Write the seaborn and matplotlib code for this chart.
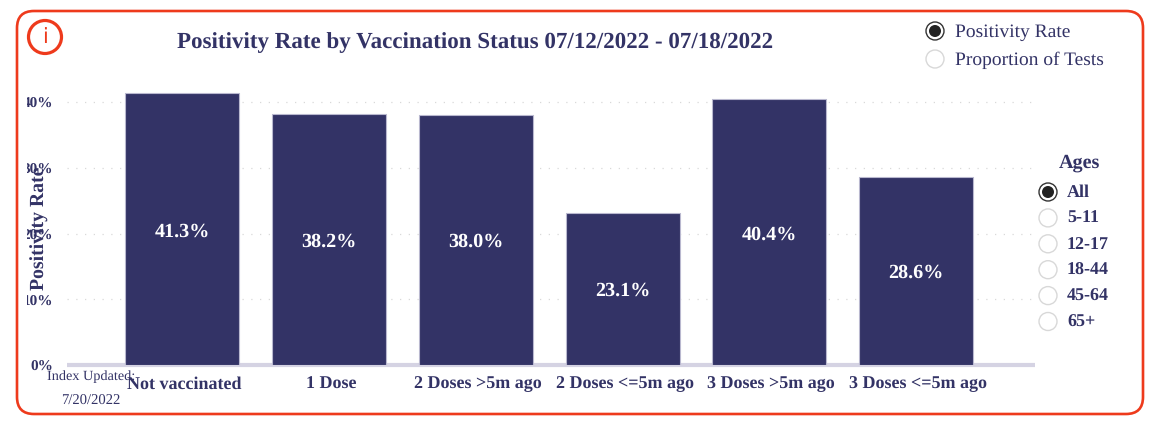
import matplotlib
matplotlib.use("Agg")
import matplotlib.pyplot as plt
import pandas as pd
import seaborn as sns
from matplotlib.patches import Circle, FancyBboxPatch
from matplotlib.transforms import Bbox, ScaledTranslation

# Data
status = ["Not vaccinated", "1 Dose", "2 Doses >5m ago", "2 Doses <=5m ago", "3 Doses >5m ago", "3 Doses <=5m ago"]
positivity = [41.3, 38.2, 38.0, 23.1, 40.4, 28.6]
y_ticks = [0, 10, 20, 30, 40]
ages = ["All", "5-11", "12-17", "18-44", "45-64", "65+"]
metrics = ["Positivity Rate", "Proportion of Tests"]

navy = "#333366"
red = "#EE3A1C"
W, H = 1154, 428

sns.set_theme(style="white")
plt.rcParams["font.family"] = ["Liberation Serif", "DejaVu Serif"]
plt.rcParams["text.hinting"] = "no_hinting"

df = pd.DataFrame({"status": status, "positivity": positivity})

fig = plt.figure(figsize=(W / 100, H / 100), dpi=100)
ax = fig.add_axes([67 / W, 1 - 365 / H, (1035 - 67) / W, (365 - 90) / H])

sns.barplot(data=df, x="status", y="positivity", color=navy, saturation=1, width=0.777,
            edgecolor="#b9b8cf", linewidth=0.8, ax=ax, zorder=3)
ax.set_xlim(-0.785, 5.81)
ax.set_ylim(0, 41.83)

# dotted grid
ax.set_yticks(y_ticks)
ax.yaxis.grid(True, linestyle=(0, (1, 6)), color="#d9d9d9", linewidth=0.9, zorder=0)
ax.set_axisbelow(True)
for s in ["top", "right", "left"]:
    ax.spines[s].set_visible(False)
ax.spines["bottom"].set_color("#d5d3e3")
ax.spines["bottom"].set_linewidth(3)
ax.spines["bottom"].set_capstyle("butt")
ax.spines["bottom"].set_zorder(2)
ax.tick_params(axis="both", length=0)

# tick labels, the left digit gets cut off in the original
ax.set_yticks(y_ticks, [f"{v}%" for v in y_ticks], fontsize=11, fontweight="bold", color=navy)
ax.tick_params(axis="y", pad=10)
clip = Bbox([[27, 0], [120, H]])
for lab in ax.get_yticklabels():
    lab.set_clip_box(clip)
    lab.set_clip_on(True)
    lab.set_transform(lab.get_transform() + ScaledTranslation(0, -1 / 100, fig.dpi_scale_trans))
ax.set_xticks(range(len(status)), status, fontsize=13, fontweight="bold", color=navy)
ax.tick_params(axis="x", pad=8)
for lab in ax.get_xticklabels():
    lab.set_transform(lab.get_transform() + ScaledTranslation(2 / 100, 0, fig.dpi_scale_trans))
ax.set_xlabel("")
ax.set_ylabel("")

for i, v in enumerate(positivity):
    ax.text(i, v / 2 - 0.35, f"{v}%", ha="center", va="center", color="white", fontsize=14.5, fontweight="bold", zorder=4)

# overlay in pixel coords for the frame, title and the radio buttons
ov = fig.add_axes([0, 0, 1, 1], facecolor="none")
ov.set_xlim(0, W)
ov.set_ylim(H, 0)
ov.axis("off")

ov.add_patch(FancyBboxPatch((17 + 15, 11 + 15), 1126 - 30, 403 - 30, boxstyle="round,pad=15,rounding_size=17",
                            fill=False, edgecolor=red, linewidth=1.9))

# info icon
ov.add_patch(Circle((45, 37), 16.5, fill=False, edgecolor=red, linewidth=2.3))
ov.text(45, 37.5, "i", color=red, fontsize=15, ha="center", va="center", family="DejaVu Sans")

ov.text(475, 43, "Positivity Rate by Vaccination Status 07/12/2022 - 07/18/2022", ha="center", va="center",
        color=navy, fontsize=16.6, fontweight="bold")
ov.text(40, 228, "Positivity Rate", rotation=90, ha="center", va="center", color=navy, fontsize=14.2, fontweight="bold")
ov.text(91, 377, "Index Updated:", ha="center", va="center", color=navy, fontsize=10.3)
ov.text(91, 401, "7/20/2022", ha="center", va="center", color=navy, fontsize=10.5)


def radio(x, y, on):
    if on:
        ov.add_patch(Circle((x, y), 9, facecolor="white", edgecolor="#333333", linewidth=1))
        ov.add_patch(Circle((x, y), 6, facecolor="#222222", edgecolor="none"))
    else:
        ov.add_patch(Circle((x, y), 9, facecolor="white", edgecolor="#d8d8d8", linewidth=1))


for i, m in enumerate(metrics):
    y = 31 + i * 28
    radio(935, y, i == 0)
    ov.text(955, y + 1, m, ha="left", va="center", color=navy, fontsize=14)

ov.text(1079, 163, "Ages", ha="center", va="center", color=navy, fontsize=14.5, fontweight="bold")
for i, a in enumerate(ages):
    y = 192 + i * 25.9
    radio(1048, y, i == 0)
    ov.text(1067, y + 1, a, ha="left", va="center", color=navy, fontsize=13, fontweight="bold")

fig.savefig("out.png", dpi=100)
